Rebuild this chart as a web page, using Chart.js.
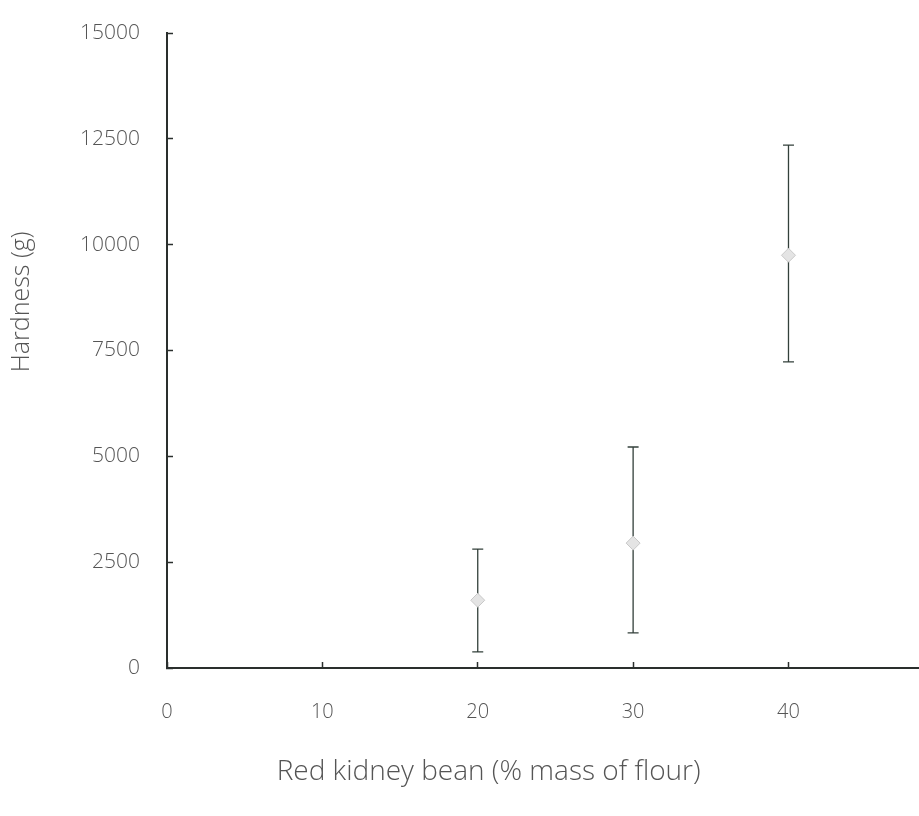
<!DOCTYPE html>
<html>
<head>
<meta charset="utf-8">
<script src="https://cdn.jsdelivr.net/npm/chart.js@4.4.1/dist/chart.umd.min.js"></script>
<style>
  html, body { margin: 0; padding: 0; background: #fff; }
  canvas { display: block; }
</style>
</head>
<body>
<canvas id="hardnessChart" width="919" height="816"></canvas>
<script>
// red kidney bean level (% mass of flour) and measured hardness (g)
const beanPercent = [20, 30, 40];
const hardness = [1600, 2950, 9750];
const errLower = [380, 830, 7230];
const errUpper = [2810, 5220, 12350];

const xTicks = [0, 10, 20, 30, 40];
const yTicks = [0, 2500, 5000, 7500, 10000, 12500, 15000];

const xTitle = 'Red kidney bean (% mass of flour)';
const yTitle = 'Hardness (g)';

const textColor = '#555';
const axisColor = '#2a2f2d';
const fontFamily = '"Open Sans", sans-serif';

// draws the vertical error bars under the points
const errorBars = {
    id: 'errorBars',
    beforeDatasetsDraw(chart) {
        const ctx = chart.ctx;
        const xs = chart.scales.x;
        const ys = chart.scales.y;
        ctx.save();
        ctx.strokeStyle = '#33403b';
        ctx.lineWidth = 1.3;
        beanPercent.forEach((p, i) => {
            const x = xs.getPixelForValue(p);
            const yLo = ys.getPixelForValue(errLower[i]);
            const yHi = ys.getPixelForValue(errUpper[i]);
            ctx.beginPath();
            ctx.moveTo(x, yLo);
            ctx.lineTo(x, yHi);
            ctx.moveTo(x - 5.5, yLo);
            ctx.lineTo(x + 5.5, yLo);
            ctx.moveTo(x - 5.5, yHi);
            ctx.lineTo(x + 5.5, yHi);
            ctx.stroke();
        });
        ctx.restore();
    }
};

// axis titles sit off-centre in the original, so place them by hand
const axisTitles = {
    id: 'axisTitles',
    afterDraw(chart) {
        const ctx = chart.ctx;
        const xs = chart.scales.x;
        const ys = chart.scales.y;
        ctx.save();
        ctx.fillStyle = textColor;
        ctx.textAlign = 'center';
        ctx.textBaseline = 'middle';
        ctx.font = '300 28px ' + fontFamily;
        ctx.fillText(xTitle, xs.getPixelForValue(20.7), 772);
        ctx.translate(22, ys.getPixelForValue(8650));
        ctx.rotate(-Math.PI / 2);
        ctx.font = '300 25px ' + fontFamily;
        ctx.fillText(yTitle, 0, 0);
        ctx.restore();
    }
};

const chart = new Chart(document.getElementById('hardnessChart'), {
    type: 'scatter',
    data: {
        datasets: [{
            label: 'Hardness',
            data: beanPercent.map((p, i) => ({ x: p, y: hardness[i] })),
            pointStyle: 'rectRot',
            pointRadius: 7,
            pointBackgroundColor: '#e4e4e4',
            pointBorderColor: '#c8c8c8',
            pointBorderWidth: 1
        }]
    },
    options: {
        responsive: false,
        animation: false,
        layout: { autoPadding: false, padding: { top: 33, right: 0, left: 0, bottom: 0 } },
        plugins: {
            legend: { display: false },
            tooltip: { enabled: false }
        },
        scales: {
            x: {
                type: 'linear',
                min: 0,
                max: 48.4,
                afterBuildTicks: (scale) => {
                    scale.ticks = xTicks.map(v => ({ value: v }));
                },
                afterFit: (scale) => {
                    scale.height = 148;
                    scale.paddingLeft = 0;
                    scale.paddingRight = 0;
                },
                grid: {
                    drawOnChartArea: false,
                    tickLength: -6,
                    tickWidth: 1.5,
                    tickColor: axisColor
                },
                border: { color: axisColor, width: 2 },
                ticks: {
                    padding: 38,
                    color: textColor,
                    callback: (v) => String(v),
                    font: { family: fontFamily, size: 20, weight: 300 }
                }
            },
            y: {
                min: 0,
                max: 15000,
                afterBuildTicks: (scale) => {
                    scale.ticks = yTicks.map(v => ({ value: v }));
                },
                afterFit: (scale) => {
                    scale.width = 167;
                    scale.paddingTop = 0;
                    scale.paddingBottom = 0;
                },
                grid: {
                    drawOnChartArea: false,
                    tickLength: -6,
                    tickWidth: 1.5,
                    tickColor: axisColor
                },
                border: { color: axisColor, width: 2 },
                ticks: {
                    padding: 33,
                    color: textColor,
                    callback: (v) => String(v),
                    font: { family: fontFamily, size: 21, weight: 300 }
                }
            }
        }
    },
    plugins: [errorBars, axisTitles]
});
</script>
</body>
</html>
